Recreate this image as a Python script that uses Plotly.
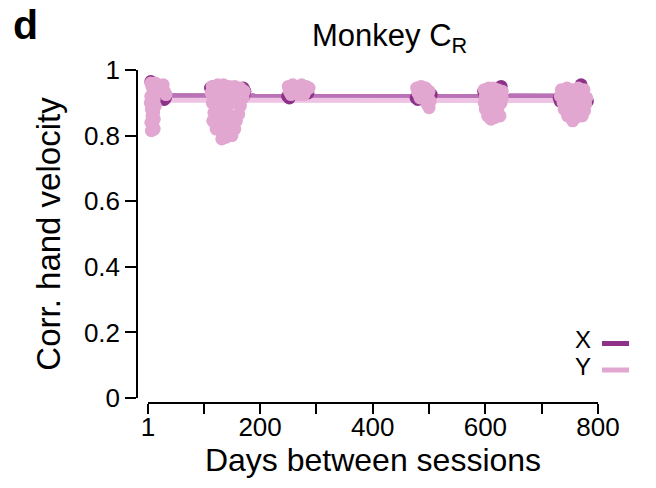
import plotly.graph_objects as go

# Correlation of decoded hand velocity vs. days between sessions (Monkey C_R)
# Y-velocity decoding, per session pair
y_days = [6, 8, 10, 12, 14, 18, 22, 26, 30, 33, 28, 6, 9, 12, 7, 11, 8, 12, 6, 10, 7, 12, 14, 16, 5,
          115, 125, 135, 145, 155, 165, 172, 113, 120, 130, 140, 150, 160, 170, 115, 125, 135, 145, 155,
          165, 118, 128, 140, 150, 162, 116, 126, 138, 148, 158, 122, 135, 145, 155, 140, 150, 132,
          250, 258, 266, 274, 282, 287, 252, 262, 272, 280, 255, 268, 278,
          478, 486, 494, 500, 480, 490, 498, 484, 494, 502, 497, 500,
          598, 606, 614, 622, 630, 600, 610, 620, 630, 598, 608, 618, 628, 600, 612, 622, 604, 616, 626, 610,
          735, 745, 755, 765, 775, 733, 742, 752, 762, 772, 780, 738, 748, 758, 768, 778, 740, 752, 764,
          776, 746, 760, 772, 755]
y_corr = [0.96, 0.95, 0.94, 0.955, 0.96, 0.955, 0.95, 0.945, 0.935, 0.925, 0.955, 0.92, 0.90, 0.91, 0.88,
          0.87, 0.86, 0.85, 0.84, 0.83, 0.815, 0.82, 0.89, 0.93, 0.90,
          0.95, 0.955, 0.955, 0.95, 0.95, 0.945, 0.935, 0.93, 0.92, 0.925, 0.93, 0.925, 0.92, 0.915, 0.90,
          0.89, 0.90, 0.895, 0.90, 0.89, 0.87, 0.865, 0.87, 0.86, 0.865, 0.845, 0.84, 0.835, 0.84, 0.845,
          0.82, 0.815, 0.81, 0.82, 0.795, 0.80, 0.79,
          0.95, 0.955, 0.95, 0.955, 0.95, 0.945, 0.935, 0.94, 0.935, 0.935, 0.925, 0.925, 0.925,
          0.945, 0.95, 0.945, 0.935, 0.93, 0.93, 0.925, 0.915, 0.91, 0.905, 0.895, 0.885,
          0.94, 0.945, 0.945, 0.94, 0.935, 0.92, 0.925, 0.92, 0.915, 0.90, 0.90, 0.895, 0.90, 0.88, 0.875,
          0.88, 0.86, 0.855, 0.86, 0.85,
          0.94, 0.945, 0.94, 0.945, 0.94, 0.92, 0.925, 0.92, 0.925, 0.92, 0.915, 0.90, 0.905, 0.90, 0.90,
          0.895, 0.88, 0.875, 0.88, 0.875, 0.86, 0.855, 0.86, 0.845]

# X-velocity decoding, per session pair
x_days = [6, 9, 30, 32, 20, 10, 12, 15,
          112, 118, 170, 173, 171, 140, 150, 130,
          249, 252, 270, 285,
          477, 480, 504, 490,
          597, 599, 628, 620, 610,
          731, 733, 770, 781, 760, 745]
x_corr = [0.965, 0.96, 0.91, 0.915, 0.93, 0.92, 0.93, 0.94,
          0.945, 0.95, 0.945, 0.935, 0.92, 0.93, 0.92, 0.91,
          0.92, 0.915, 0.93, 0.93,
          0.915, 0.91, 0.925, 0.92,
          0.935, 0.925, 0.95, 0.93, 0.91,
          0.915, 0.905, 0.955, 0.905, 0.93, 0.92]

# Linear fits across all days
fit_days = [1, 781]
fit_x = [0.922, 0.921]
fit_y = [0.908, 0.907]

x_tickvals = [1, 100, 200, 300, 400, 500, 600, 700, 800]
x_ticktext = ["1", "", "200", "", "400", "", "600", "", "800"]
y_tickvals = [0, 0.2, 0.4, 0.6, 0.8, 1]
y_ticktext = ["0", "0.2", "0.4", "0.6", "0.8", "1"]

COL_X = "#8E3189"
COL_Y = "#E2A7D0"
COL_XFIT = "#B872B5"
COL_YFIT = "#EEC3E3"
FONT = "Liberation Sans"

W, H = 656, 488


def px(v):
    return v / W


def py(v):
    return 1 - v / H


fig = go.Figure()
fig.add_trace(go.Scatter(x=fit_days, y=fit_x, mode="lines",
                         line=dict(color=COL_XFIT, width=5), cliponaxis=False))
fig.add_trace(go.Scatter(x=fit_days, y=fit_y, mode="lines",
                         line=dict(color=COL_YFIT, width=5), cliponaxis=False))
fig.add_trace(go.Scatter(x=x_days, y=x_corr, mode="markers", cliponaxis=False,
                         marker=dict(color=COL_X, size=13, line=dict(width=0))))
fig.add_trace(go.Scatter(x=y_days, y=y_corr, mode="markers", cliponaxis=False,
                         marker=dict(color=COL_Y, size=13, line=dict(width=0))))


def label(text, x, y, size, xanchor="center"):
    return dict(text=text, x=px(x), y=py(y), xref="paper", yref="paper",
                xanchor=xanchor, yanchor="middle", showarrow=False,
                font=dict(size=size))


fig.update_layout(
    width=W, height=H,
    margin=dict(l=0, r=0, t=0, b=0),
    paper_bgcolor="white", plot_bgcolor="white",
    showlegend=False,
    font=dict(family=FONT, color="black"),
    xaxis=dict(
        domain=[px(148), px(598)], range=[1, 800],
        anchor="free", position=py(403),
        showline=True, linecolor="black", linewidth=1.5,
        ticks="outside", ticklen=10, tickwidth=1.5, tickcolor="black",
        tickvals=x_tickvals, ticktext=x_ticktext,
        tickfont=dict(size=26), ticklabelstandoff=-9,
        showgrid=False, zeroline=False,
        title=dict(text="Days between sessions", font=dict(size=32), standoff=2),
        automargin=False,
    ),
    yaxis=dict(
        domain=[py(398), py(70)], range=[0, 1],
        anchor="free", position=px(137),
        showline=True, linecolor="black", linewidth=1.5,
        ticks="outside", ticklen=11, tickwidth=1.5, tickcolor="black",
        tickvals=y_tickvals, ticktext=y_ticktext,
        tickfont=dict(size=26), showgrid=False, zeroline=False,
        title=dict(text="Corr. hand velocity", font=dict(size=33), standoff=12),
        automargin=False,
    ),
    annotations=[
        label("<b>d</b>", 25, 25, 41),
        label("Monkey C<sub>R</sub>", 389, 38, 31),
        label("X", 583, 339, 24),
        label("Y", 583, 366, 24),
    ],
    shapes=[
        dict(type="line", xref="paper", yref="paper", x0=px(602), x1=px(629),
             y0=py(343.5), y1=py(343.5), line=dict(color=COL_X, width=5)),
        dict(type="line", xref="paper", yref="paper", x0=px(602), x1=px(629),
             y0=py(370), y1=py(370), line=dict(color=COL_Y, width=5)),
    ],
)

fig.write_html("out.html")
